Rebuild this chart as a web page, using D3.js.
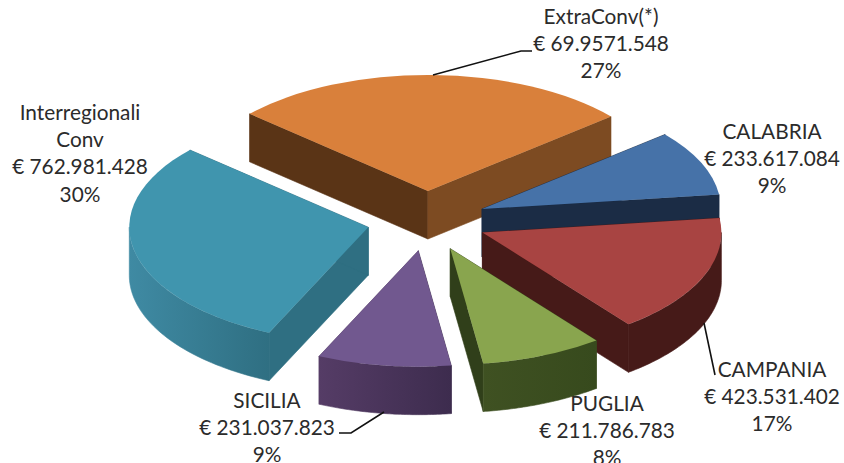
<!DOCTYPE html>
<html>
<head>
<meta charset="utf-8">
<script src="https://cdn.jsdelivr.net/npm/d3@7/dist/d3.min.js"></script>
<style>
html,body{margin:0;padding:0;background:#fff;overflow:hidden}
text{font-family:Lato,"Open Sans",sans-serif;font-size:20.8px;fill:#2b2b2b;text-anchor:middle}
</style>
</head>
<body>
<script>
// Data
const categories = ["CALABRIA","CAMPANIA","PUGLIA","SICILIA","Interregionali Conv","ExtraConv(*)"];
const values = [233617084,423531402,211786783,231037823,762981428,699571548];
const valueLabels = ["€ 233.617.084","€ 423.531.402","€ 211.786.783","€ 231.037.823","€ 762.981.428","€ 69.9571.548"];
const percentLabels = ["9%","17%","8%","9%","30%","27%"];

// Styles
const topColors  = ["#4672a8","#a84442","#89a54e","#71588f","#4095ae","#d9803b"];
const startWalls = ["#1b2c45","#461a18","#3a4c1f","#3d2c4e","#2f6f82","#5a3416"];
const endWalls   = ["#1b2c45","#461a18","#303f1a","#553c66","#2f6f82","#7d4b22"];
const arcFrom    = ["#1b2c45","#461a18","#3f5122","#553c66","#3f8aa3","#7d4b22"];
const arcTo      = ["#1b2c45","#461a18","#374a1d","#3d2c4e","#2f6f82","#7d4b22"];

// Layout
const W = 844, H = 463;
const cx = 427, cy = 221, rx = 239, ry = 116, depth = 48;
const explode = 60, explodeY = 30;
const startDeg = 50;
const drawOrder = [5,0,1,4,3,2];
const labelLayout = [
  {x:772, y:139, lines:["CALABRIA"]},
  {x:772, y:377, lines:["CAMPANIA"]},
  {x:607, y:411, lines:["PUGLIA"]},
  {x:267, y:408, lines:["SICILIA"]},
  {x:80,  y:120, lines:["Interregionali","Conv"]},
  {x:601, y:24,  lines:["ExtraConv(*)"]}
];
const lineHeight = 27.2;
const leaders = [
  [[715,375],[704,323]],
  [[339,433],[351,433],[384,412]],
  [[532,51],[521,51],[433,75]]
];

const svg = d3.select("body").append("svg").attr("width",W).attr("height",H).style("display","block");
const defs = svg.append("defs");

const rad = d => d*Math.PI/180;
const pie = d3.pie().sort(null).startAngle(rad(startDeg)).endAngle(rad(startDeg+360));
const arcs = pie(values);
const arcGen = d3.arc().innerRadius(0).outerRadius(rx);
const line = d3.line();
const ratio = ry/rx;

arcs.forEach((d,i)=>{
  const mid = (d.startAngle+d.endAngle)/2;
  d.tipX = cx + explode*Math.sin(mid);
  d.tipY = cy - explodeY*Math.cos(mid);
  d.pt = a => [d.tipX + rx*Math.sin(a), d.tipY - ry*Math.cos(a)];
  const g = defs.append("linearGradient").attr("id","arcGrad"+i);
  g.append("stop").attr("offset","0%").attr("stop-color",arcFrom[i]);
  g.append("stop").attr("offset","100%").attr("stop-color",arcTo[i]);
});

function wall(a,b){ return line([a,b,[b[0],b[1]+depth],[a[0],a[1]+depth]])+"Z"; }
function arcWall(d){
  const s = Math.max(d.startAngle, Math.PI/2), e = Math.min(d.endAngle, 3*Math.PI/2);
  const n = 48;
  const sampled = d3.range(n+1).map(k=>d.pt(s+(e-s)*k/n));
  const out = sampled.concat(sampled.slice().reverse().map(p=>[p[0],p[1]+depth]));
  return line(out)+"Z";
}

const sl = svg.append("g").selectAll("g").data(drawOrder).join("g");
sl.each(function(i){
  const d = arcs[i], g = d3.select(this), tip = [d.tipX,d.tipY];
  const sPt = d.pt(d.startAngle), ePt = d.pt(d.endAngle);
  g.append("path").attr("d",wall(tip,sPt)).attr("fill",startWalls[i]).attr("stroke",startWalls[i]).attr("stroke-width",0.6);
  g.append("path").attr("d",wall(tip,ePt)).attr("fill",endWalls[i]).attr("stroke",endWalls[i]).attr("stroke-width",0.6);
  const s = Math.max(d.startAngle, Math.PI/2), e = Math.min(d.endAngle, 3*Math.PI/2);
  if (e > s) g.append("path").attr("d",arcWall(d)).attr("fill",`url(#arcGrad${i})`).attr("stroke",`url(#arcGrad${i})`).attr("stroke-width",0.6);
  g.append("path")
    .attr("transform",`translate(${d.tipX},${d.tipY}) scale(1,${ratio})`)
    .attr("d",arcGen(d))
    .attr("fill",topColors[i]);
});

svg.append("g").selectAll("path").data(leaders).join("path")
  .attr("d",d=>line(d)).attr("fill","none").attr("stroke","#111").attr("stroke-width",1.6);

const lab = svg.append("g").selectAll("text").data(categories).join("text")
  .attr("transform",(d,i)=>`translate(${labelLayout[i].x},${labelLayout[i].y})`);
lab.each(function(c,i){
  const lines = labelLayout[i].lines.concat([valueLabels[i],percentLabels[i]]);
  d3.select(this).selectAll("tspan").data(lines).join("tspan")
    .attr("x",0).attr("y",(l,k)=>k*lineHeight).text(l=>l);
});
</script>
</body>
</html>
